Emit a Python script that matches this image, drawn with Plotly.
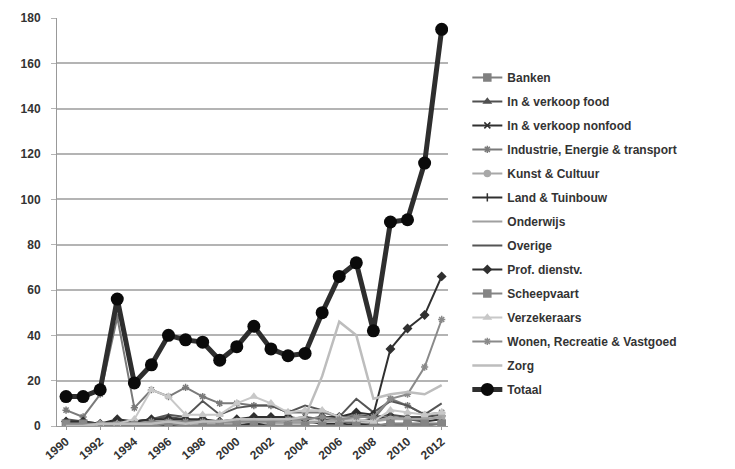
import plotly.graph_objects as go

years = list(range(1990, 2013))
tick_years = list(range(1990, 2013, 2))

banken = [1, 1, 0, 0, 0, 0, 1, 0, 1, 0, 0, 0, 0, 0, 0, 0, 0, 1, 1, 0, 0, 0, 1]
food = [2, 1, 1, 2, 2, 3, 4, 3, 2, 2, 2, 3, 3, 3, 4, 3, 2, 5, 4, 5, 4, 4, 5]
nonfood = [1, 1, 0, 1, 1, 1, 2, 2, 1, 1, 1, 1, 2, 2, 2, 1, 1, 2, 3, 4, 3, 2, 3]
industrie = [7, 4, 14, 48, 8, 16, 13, 17, 13, 10, 10, 9, 9, 6, 6, 6, 4, 5, 3, 12, 9, 5, 6]
kunst = [0, 0, 0, 1, 1, 1, 1, 1, 1, 1, 1, 2, 1, 1, 1, 2, 2, 2, 2, 3, 3, 3, 4]
land = [0, 0, 0, 0, 0, 0, 0, 0, 0, 0, 0, 1, 0, 0, 0, 0, 0, 1, 0, 1, 1, 1, 1]
onderwijs = [0, 0, 1, 1, 1, 2, 2, 1, 2, 2, 2, 3, 2, 2, 2, 2, 3, 3, 2, 4, 3, 3, 4]
overige = [3, 2, 1, 2, 2, 3, 5, 4, 11, 5, 8, 9, 9, 6, 9, 7, 4, 12, 6, 11, 9, 5, 10]
prof = [2, 2, 1, 3, 2, 3, 3, 3, 3, 2, 3, 4, 4, 4, 3, 4, 4, 6, 5, 34, 43, 49, 66]
scheepvaart = [1, 1, 0, 0, 0, 0, 1, 0, 0, 0, 0, 0, 0, 0, 0, 0, 0, 0, 0, 1, 1, 1, 1]
verzekeraars = [0, 0, 1, 1, 3, 16, 13, 5, 5, 5, 10, 13, 10, 6, 7, 7, 4, 3, 2, 7, 6, 5, 6]
wonen = [1, 1, 1, 1, 1, 2, 2, 2, 2, 2, 2, 2, 2, 3, 3, 4, 3, 4, 4, 12, 14, 26, 47]
zorg = [0, 0, 1, 1, 1, 1, 2, 1, 2, 2, 3, 3, 3, 3, 4, 22, 46, 40, 12, 14, 15, 14, 18]
totaal = [13, 13, 16, 56, 19, 27, 40, 38, 37, 29, 35, 44, 34, 31, 32, 50, 66, 72, 42, 90, 91, 116, 175]

series = [
    ("Banken", banken, "#808080", "square", 7, 2),
    ("In & verkoop food", food, "#505050", "triangle-up", 6, 2),
    ("In & verkoop nonfood", nonfood, "#303030", "x-thin-open", 6, 2),
    ("Industrie, Energie & transport", industrie, "#7a7a7a", "asterisk-open", 6, 2),
    ("Kunst & Cultuur", kunst, "#a8a8a8", "circle", 6, 2),
    ("Land & Tuinbouw", land, "#303030", "line-ns-open", 6, 2),
    ("Onderwijs", onderwijs, "#a0a0a0", None, 0, 2),
    ("Overige", overige, "#555555", None, 0, 2),
    ("Prof. dienstv.", prof, "#303030", "diamond", 6, 2),
    ("Scheepvaart", scheepvaart, "#858585", "square", 7, 2),
    ("Verzekeraars", verzekeraars, "#c8c8c8", "triangle-up", 6, 2),
    ("Wonen, Recreatie & Vastgoed", wonen, "#8a8a8a", "asterisk-open", 6, 2),
    ("Zorg", zorg, "#bdbdbd", None, 0, 2.5),
]

fig = go.Figure()
for i, (name, vals, color, sym, size, w) in enumerate(series):
    kw = dict(mode="lines+markers", marker=dict(symbol=sym, size=size, color=color,
                                                  line=dict(color=color, width=1.5))) if sym else dict(mode="lines")
    fig.add_trace(go.Scatter(x=years, y=vals, name=name, line=dict(color=color, width=w),
                             legendgroup=f"g{i}", **kw))

fig.add_trace(go.Scatter(x=years, y=totaal, name="Totaal", mode="lines+markers",
                         line=dict(color="#2e2e2e", width=5),
                         marker=dict(symbol="circle", size=13, color="#0a0a0a"),
                         legendgroup="g99"))

# page has ~8px body offset; paper area: l=49, r=10, t=10, b=51 -> width 676, height 408
fig.update_layout(
    width=735, height=469,
    paper_bgcolor="white", plot_bgcolor="white",
    margin=dict(l=49, r=10, t=10, b=51, autoexpand=False),
    font=dict(family="Liberation Sans, Arial, sans-serif", size=11, color="#333"),
    legend=dict(x=0.607, y=0.89, xanchor="left", yanchor="top", tracegroupgap=5,
                font=dict(size=12, color="#333", weight="bold"), itemwidth=30,
                bgcolor="rgba(0,0,0,0)"),
    showlegend=True,
)
fig.update_xaxes(domain=[0, 0.5784], range=[1989.47, 2012.37], tickmode="array", tickvals=tick_years,
                 ticktext=[str(y) for y in tick_years], tickangle=-40, automargin=False,
                 showgrid=False, showline=True, linecolor="#999", linewidth=1,
                 ticks="outside", ticklen=3, tickcolor="#999",
                 tickfont=dict(size=12, color="#333", weight="bold"), zeroline=False)
fig.update_yaxes(range=[0, 180], dtick=20, showgrid=True, gridcolor="#b4b4b4", gridwidth=2,
                 automargin=False,
                 showline=True, linecolor="#999", linewidth=1, zeroline=False,
                 tickfont=dict(size=12, color="#333", weight="bold"), ticks="outside",
                 ticklen=5, tickcolor="#b4b4b4", ticklabelstandoff=8)

fig.write_html("out.html")
